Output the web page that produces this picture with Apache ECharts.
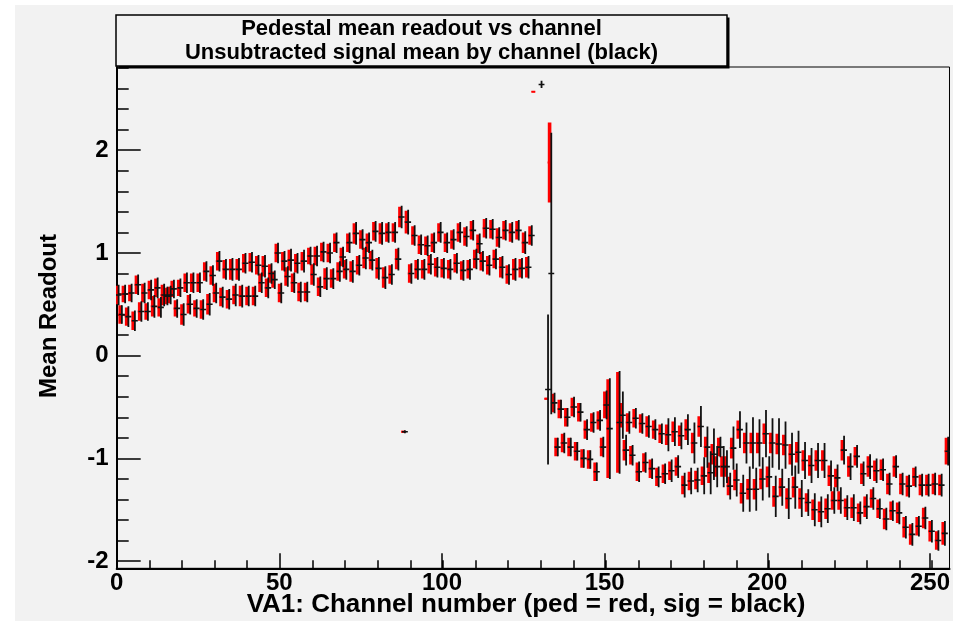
<!DOCTYPE html>
<html><head><meta charset="utf-8">
<script src="https://cdn.jsdelivr.net/npm/echarts@6/dist/echarts.min.js"></script>
<style>html,body{margin:0;padding:0;background:#fff;}#c{width:953px;height:621px;}</style>
</head><body><div id="c"></div>
<script>
// ---- data (index = channel number 0..255) ----
const titleLines = ["Pedestal mean readout vs channel", "Unsubtracted signal mean by channel (black)"];
const xTitle = "VA1: Channel number (ped = red, sig = black)";
const yTitle = "Mean Readout";
const xMajorTicks = [0, 50, 100, 150, 200, 250];
const xMinorTicks = [0,10,20,30,40,50,60,70,80,90,100,110,120,130,140,150,160,170,180,190,200,210,220,230,240,250];
const yMajorTicks = [-2, -1, 0, 1, 2];
const yMinorTicks = [-2,-1.8,-1.6,-1.4,-1.2,-1,-0.8,-0.6,-0.4,-0.2,0,0.2,0.4,0.6,0.8,1,1.2,1.4,1.6,1.8,2,2.2,2.4,2.6,2.8];

const sigMean = [
0.59,0.40,0.60,0.38,0.61,0.34,0.69,0.43,0.61,0.43,
0.64,0.48,0.66,0.47,0.59,0.58,0.59,0.65,0.46,0.66,
0.40,0.71,0.50,0.71,0.46,0.71,0.45,0.82,0.50,0.78,
0.61,0.92,0.57,0.84,0.55,0.84,0.59,0.84,0.58,0.90,
0.58,0.91,0.58,0.88,0.71,0.87,0.66,0.80,0.74,1.00,
0.61,0.92,0.77,0.93,0.71,0.90,0.62,0.92,0.62,0.97,
0.79,0.97,0.67,1.01,0.75,1.00,0.75,1.10,0.82,0.96,
0.84,1.10,0.82,1.19,0.88,1.13,0.95,1.10,0.93,1.21,
0.85,1.19,0.76,1.20,0.79,1.20,0.94,1.35,-0.74,1.30,
0.80,1.17,0.84,1.08,0.84,1.07,0.89,1.10,0.86,1.20,
0.85,1.10,0.84,1.13,0.90,1.20,0.83,1.16,0.84,1.22,
0.94,1.09,0.92,1.24,0.88,1.23,0.94,1.15,0.86,1.22,
0.79,1.20,0.84,1.22,0.85,1.10,0.86,1.17,
null,null,2.64,null,-0.33,0.80,
-0.46,-0.89,-0.52,-0.85,-0.60,-0.89,-0.50,-0.93,-0.55,-1.00,
-0.72,-1.01,-0.65,-1.13,-0.63,-0.89,-0.48,-0.71,null,null,
-0.65,-0.58,-0.92,-0.65,-0.97,-0.61,-1.13,-0.66,-1.04,-0.69,
-1.10,-0.72,-1.18,-0.76,-1.15,-0.77,-1.12,-0.74,-1.08,-0.78,
-1.26,-0.72,-1.22,-0.85,-1.21,-0.69,-1.17,-0.89,-1.14,-0.96,
-1.08,-0.89,-1.08,-1.08,-1.27,-0.90,-1.21,-0.72,-1.34,-0.85,
-1.30,-0.85,-1.30,-0.85,-1.20,-0.76,-1.18,-0.85,-1.37,-0.86,
-1.28,-0.87,-1.39,-0.96,-1.28,-0.94,-1.39,-1.02,-1.43,-1.07,
-1.50,-1.02,-1.52,-1.02,-1.49,-1.17,-1.41,-1.19,-1.41,-0.92,
-1.48,-1.08,-1.48,-0.98,-1.53,-1.15,-1.47,-1.08,-1.39,-1.12,
-1.49,-1.11,-1.59,-1.25,-1.51,-1.08,-1.53,-1.25,-1.67,-1.27,
-1.74,-1.18,-1.66,-1.26,-1.58,-1.26,-1.71,-1.25,-1.80,-1.26,
-1.73,-0.93
];
const sigErr = [
0.10,0.09,0.09,0.10,0.09,0.10,0.10,0.10,0.10,0.09,
0.10,0.11,0.10,0.10,0.11,0.09,0.09,0.09,0.09,0.09,
0.11,0.10,0.10,0.10,0.09,0.10,0.10,0.10,0.11,0.10,
0.10,0.10,0.10,0.10,0.10,0.11,0.11,0.11,0.11,0.10,
0.10,0.10,0.10,0.10,0.10,0.11,0.10,0.10,0.09,0.10,
0.10,0.10,0.10,0.11,0.10,0.10,0.10,0.11,0.10,0.09,
0.11,0.10,0.10,0.10,0.11,0.10,0.10,0.10,0.10,0.10,
0.10,0.10,0.11,0.11,0.10,0.10,0.11,0.10,0.10,0.10,
0.11,0.11,0.11,0.10,0.10,0.10,0.11,0.11,0.015,0.12,
0.10,0.10,0.10,0.10,0.10,0.10,0.10,0.10,0.10,0.10,
0.10,0.10,0.10,0.10,0.10,0.10,0.10,0.10,0.10,0.10,
0.10,0.10,0.10,0.10,0.10,0.10,0.10,0.10,0.11,0.10,
0.10,0.10,0.11,0.10,0.10,0.11,0.11,0.10,
null,null,0.035,null,0.73,1.37,
0.10,0.09,0.09,0.10,0.09,0.09,0.10,0.09,0.09,0.09,
0.10,0.09,0.10,0.09,0.10,0.10,0.14,0.49,null,null,
0.50,0.23,0.15,0.11,0.10,0.10,0.10,0.10,0.10,0.11,
0.10,0.10,0.10,0.10,0.10,0.16,0.11,0.14,0.11,0.13,
0.12,0.15,0.13,0.20,0.12,0.20,0.18,0.20,0.21,0.25,
0.20,0.10,0.20,0.16,0.13,0.21,0.16,0.18,0.18,0.20,
0.22,0.25,0.21,0.23,0.21,0.23,0.20,0.24,0.20,0.25,
0.18,0.23,0.20,0.21,0.21,0.21,0.18,0.18,0.13,0.17,
0.16,0.17,0.15,0.17,0.14,0.15,0.13,0.13,0.13,0.14,
0.12,0.13,0.13,0.11,0.11,0.12,0.12,0.12,0.11,0.12,
0.10,0.11,0.11,0.11,0.10,0.11,0.11,0.11,0.11,0.11,
0.11,0.10,0.10,0.11,0.11,0.11,0.11,0.11,0.10,0.11,
0.12,0.14
];
const pedMean = [
0.59,0.40,0.60,0.38,0.61,0.34,0.69,0.43,0.61,0.43,
0.64,0.48,0.66,0.47,0.59,0.58,0.59,0.65,0.46,0.66,
0.40,0.71,0.50,0.71,0.46,0.71,0.45,0.82,0.50,0.78,
0.61,0.92,0.57,0.84,0.55,0.84,0.59,0.84,0.58,0.90,
0.58,0.91,0.58,0.88,0.71,0.87,0.66,0.80,0.74,1.00,
0.61,0.92,0.77,0.93,0.71,0.90,0.62,0.92,0.62,0.97,
0.79,0.97,0.67,1.01,0.75,1.00,0.75,1.10,0.82,0.96,
0.84,1.10,0.82,1.19,0.88,1.13,0.95,1.10,0.93,1.21,
0.85,1.19,0.76,1.20,0.79,1.20,0.94,1.35,-0.74,1.30,
0.80,1.17,0.84,1.08,0.84,1.07,0.89,1.10,0.86,1.20,
0.85,1.10,0.84,1.13,0.90,1.20,0.83,1.16,0.84,1.22,
0.94,1.09,0.92,1.24,0.88,1.23,0.94,1.15,0.86,1.22,
0.79,1.20,0.84,1.22,0.85,1.10,0.86,1.17,
2.57,null,null,null,-0.42,1.88,
-0.46,-0.89,-0.52,-0.85,-0.60,-0.89,-0.50,-0.93,-0.55,-1.00,
-0.72,-1.01,-0.65,-1.13,-0.63,-0.89,-0.48,-0.71,null,null,
-0.65,-0.58,-0.92,-0.65,-0.97,-0.61,-1.13,-0.66,-1.04,-0.69,
-1.10,-0.72,-1.18,-0.76,-1.15,-0.77,-1.12,-0.74,-1.08,-0.78,
-1.26,-0.72,-1.22,-0.85,-1.21,-0.69,-1.17,-0.89,-1.14,-0.96,
-1.08,-0.89,-1.08,-1.08,-1.27,-0.90,-1.21,-0.72,-1.34,-0.85,
-1.30,-0.85,-1.30,-0.85,-1.20,-0.76,-1.18,-0.85,-1.37,-0.86,
-1.28,-0.87,-1.39,-0.96,-1.28,-0.94,-1.39,-1.02,-1.43,-1.07,
-1.50,-1.02,-1.52,-1.02,-1.49,-1.17,-1.41,-1.19,-1.41,-0.92,
-1.48,-1.08,-1.48,-0.98,-1.53,-1.15,-1.47,-1.08,-1.39,-1.12,
-1.49,-1.11,-1.59,-1.25,-1.51,-1.08,-1.53,-1.25,-1.67,-1.27,
-1.74,-1.18,-1.66,-1.26,-1.58,-1.26,-1.71,-1.25,-1.80,-1.26,
-1.73,-0.93
];
const pedErr = [
0.09,0.09,0.08,0.09,0.08,0.09,0.09,0.09,0.09,0.08,
0.09,0.10,0.09,0.09,0.10,0.08,0.08,0.08,0.08,0.08,
0.10,0.09,0.09,0.09,0.08,0.09,0.09,0.09,0.10,0.09,
0.09,0.09,0.09,0.09,0.09,0.10,0.09,0.10,0.10,0.09,
0.09,0.09,0.09,0.09,0.09,0.10,0.09,0.09,0.08,0.09,
0.09,0.09,0.09,0.10,0.09,0.09,0.09,0.09,0.09,0.08,
0.10,0.09,0.09,0.09,0.10,0.09,0.09,0.09,0.09,0.09,
0.09,0.09,0.10,0.10,0.09,0.09,0.10,0.09,0.09,0.09,
0.10,0.10,0.10,0.09,0.09,0.09,0.10,0.10,0.01,0.11,
0.09,0.09,0.09,0.09,0.09,0.09,0.09,0.09,0.09,0.09,
0.09,0.09,0.09,0.09,0.09,0.09,0.09,0.09,0.09,0.09,
0.09,0.09,0.09,0.09,0.09,0.09,0.09,0.09,0.10,0.09,
0.09,0.09,0.10,0.09,0.09,0.10,0.10,0.09,
0.005,null,null,null,0.01,0.39,
0.09,0.09,0.09,0.09,0.09,0.09,0.09,0.09,0.09,0.09,
0.09,0.09,0.09,0.09,0.09,0.09,0.13,0.48,null,null,
0.49,0.12,0.10,0.09,0.09,0.09,0.09,0.09,0.09,0.10,
0.09,0.09,0.09,0.09,0.09,0.10,0.09,0.10,0.09,0.10,
0.09,0.10,0.09,0.10,0.09,0.10,0.09,0.10,0.10,0.10,
0.10,0.09,0.10,0.10,0.09,0.10,0.10,0.09,0.10,0.10,
0.10,0.10,0.10,0.10,0.10,0.10,0.10,0.10,0.10,0.10,
0.09,0.10,0.10,0.10,0.10,0.10,0.10,0.10,0.09,0.10,
0.10,0.10,0.10,0.10,0.10,0.10,0.09,0.09,0.09,0.10,
0.09,0.10,0.10,0.09,0.09,0.10,0.10,0.10,0.09,0.10,
0.09,0.10,0.10,0.10,0.09,0.10,0.10,0.10,0.10,0.10,
0.10,0.09,0.09,0.10,0.10,0.10,0.10,0.10,0.09,0.10,
0.11,0.13
];

// ---- build chart ----
const FONT = "'Liberation Sans', Arial, Helvetica, sans-serif";
function points(mean, err) {
  const out = [];
  for (let i = 0; i < mean.length; i++) {
    if (mean[i] !== null && err[i] !== null) out.push([i + 0.5, mean[i], err[i]]);
  }
  return out;
}
function errRender(color, vWidth, hWidth, halfX, dx) {
  return function (params, api) {
    const x = api.value(0), m = api.value(1), e = api.value(2);
    const c = api.coord([x, m]);
    const t = api.coord([x, m + e]);
    const b = api.coord([x, m - e]);
    const l = api.coord([x - halfX, m]);
    const r = api.coord([x + halfX, m]);
    return {
      type: 'group',
      children: [
        { type: 'line', shape: { x1: t[0] + dx, y1: t[1], x2: b[0] + dx, y2: b[1] },
          style: { stroke: color, lineWidth: vWidth } },
        { type: 'line', shape: { x1: l[0] + dx, y1: c[1], x2: r[0] + dx, y2: c[1] },
          style: { stroke: color, lineWidth: hWidth } }
      ]
    };
  };
}

const chart = echarts.init(document.getElementById('c'), null, { width: 953, height: 621, renderer: 'canvas' });
const axisFont = { fontFamily: FONT, fontWeight: 'bold', fontSize: 24, color: '#000' };
const gridBox = { left: 116.7, top: 67, right: 1.3, bottom: 52.7 };
const option = {
  backgroundColor: '#ffffff',
  animation: false,
  grid: [
    Object.assign({ show: true, borderColor: '#000', borderWidth: 1, backgroundColor: 'transparent' }, gridBox),
    Object.assign({ show: false }, gridBox)
  ],
  xAxis: [
    { type: 'value', gridIndex: 0, min: 0, max: 256, position: 'bottom',
      axisLine: { show: true, onZero: false, lineStyle: { color: '#000', width: 2 } },
      axisTick: { show: true, inside: true, length: 15, customValues: xMajorTicks, lineStyle: { color: '#000', width: 1.5 } },
      axisLabel: Object.assign({ show: true, margin: 3, customValues: xMajorTicks }, axisFont),
      splitLine: { show: false } },
    { type: 'value', gridIndex: 1, min: 0, max: 256, position: 'bottom',
      axisLine: { show: false, onZero: false },
      axisTick: { show: true, inside: true, length: 8, customValues: xMinorTicks, lineStyle: { color: '#000', width: 1.5 } },
      axisLabel: { show: false }, splitLine: { show: false } }
  ],
  yAxis: [
    { type: 'value', gridIndex: 0, min: -2.07, max: 2.81, position: 'left',
      axisLine: { show: true, onZero: false, lineStyle: { color: '#000', width: 2 } },
      axisTick: { show: true, inside: true, length: 24, customValues: yMajorTicks, lineStyle: { color: '#000', width: 1.5 } },
      axisLabel: Object.assign({ show: true, margin: 8, customValues: yMajorTicks }, axisFont),
      splitLine: { show: false } },
    { type: 'value', gridIndex: 1, min: -2.07, max: 2.81, position: 'left',
      axisLine: { show: false, onZero: false },
      axisTick: { show: true, inside: true, length: 12, customValues: yMinorTicks, lineStyle: { color: '#000', width: 1.5 } },
      axisLabel: { show: false }, splitLine: { show: false } }
  ],
  graphic: [
    { type: 'rect', z: -100, silent: true, shape: { x: 15, y: 5, width: 938, height: 616 }, style: { fill: '#f2f2f2' } },
    { type: 'rect', z: 10, silent: true, shape: { x: 118.5, y: 17.5, width: 611, height: 51 }, style: { fill: '#000' } },
    { type: 'rect', z: 11, silent: true, shape: { x: 116, y: 15, width: 611, height: 51 }, style: { fill: '#f2f2f2', stroke: '#000', lineWidth: 1.5 } },
    { type: 'text', z: 12, silent: true, x: 421.5, y: 29,
      style: { text: titleLines[0], fontFamily: FONT, fontWeight: 'bold', fontSize: 22, fill: '#000', align: 'center', verticalAlign: 'middle', textAlign: 'center', textVerticalAlign: 'middle' } },
    { type: 'text', z: 12, silent: true, x: 421.5, y: 52.5,
      style: { text: titleLines[1], fontFamily: FONT, fontWeight: 'bold', fontSize: 22, fill: '#000', align: 'center', verticalAlign: 'middle', textAlign: 'center', textVerticalAlign: 'middle' } },
    { type: 'text', z: 12, silent: true, x: 526, y: 605,
      style: { text: xTitle, fontFamily: FONT, fontWeight: 'bold', fontSize: 26, fill: '#000', align: 'center', verticalAlign: 'middle', textAlign: 'center', textVerticalAlign: 'middle' } },
    { type: 'text', z: 12, silent: true, x: 49, y: 316, rotation: Math.PI / 2,
      style: { text: yTitle, fontFamily: FONT, fontWeight: 'bold', fontSize: 24, fill: '#000', align: 'center', verticalAlign: 'middle', textAlign: 'center', textVerticalAlign: 'middle' } }
  ],
  series: [
    { type: 'custom', name: 'ped', xAxisIndex: 0, yAxisIndex: 0, clip: true, z: 2,
      renderItem: errRender('#ff0000', 3.6, 2, 0.6, -1.4), data: points(pedMean, pedErr) },
    { type: 'custom', name: 'sig', xAxisIndex: 0, yAxisIndex: 0, clip: true, z: 3,
      renderItem: errRender('#111111', 1.8, 1.6, 0.9, 0.3), data: points(sigMean, sigErr) }
  ]
};
chart.setOption(option);
</script>
</body></html>
